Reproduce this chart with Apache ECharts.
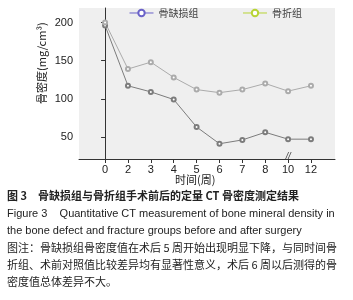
<!DOCTYPE html>
<html>
<head>
<meta charset="utf-8">
<script src="https://cdn.jsdelivr.net/npm/echarts@6/dist/echarts.min.js"></script>
<style>
  html, body { margin: 0; padding: 0; background: #fff; }
  #chart { width: 353px; height: 300px; }
</style>
</head>
<body>
<div id="chart"></div>
<script>
  // 时间(周)
  const weeks = ['0', '2', '3', '4', '5', '6', '7', '8', '10', '12']
  // 骨密度 mg/cm3
  const defectGroup = [196, 117, 109, 99, 63, 41, 46, 56, 47, 47]
  const fractureGroup = [200, 139, 148, 128, 112, 108, 112, 120, 110, 117]
  const yTicks = [50, 100, 150, 200]

  const cn = '"Noto Sans CJK SC", "Liberation Sans", sans-serif'
  const tickIdx = weeks.map((w, i) => i)

  let chart = echarts.init(document.getElementById('chart'))

  let options = {
    animation: false,
    textStyle: { fontFamily: cn },
    grid: {
      show: true,
      backgroundColor: '#efefef',
      borderWidth: 0,
      left: 79,
      right: 18,
      top: 8,
      bottom: 141
    },
    legend: {
      left: 124,
      top: 3,
      itemWidth: 24,
      itemHeight: 8,
      itemGap: 44,
      textStyle: { fontSize: 10, color: '#444', fontFamily: cn },
      data: [
        { name: '骨缺损组', itemStyle: { color: '#6a62c8' }, lineStyle: { color: '#6a62c8', width: 1 } },
        { name: '骨折组', itemStyle: { color: '#b8d436' }, lineStyle: { color: '#b8d436', width: 1 } }
      ]
    },
    xAxis: {
      type: 'value',
      min: -1.14,
      max: 10.05,
      splitLine: { show: false },
      axisLine: { lineStyle: { color: '#333' } },
      axisTick: { customValues: tickIdx, length: 4, lineStyle: { color: '#333' } },
      axisLabel: {
        customValues: tickIdx,
        formatter: v => weeks[Math.round(v)],
        color: '#222',
        fontSize: 11,
        margin: 5,
        fontFamily: '"Liberation Sans", sans-serif'
      }
    },
    yAxis: {
      type: 'value',
      min: 21,
      max: 219,
      splitLine: { show: false },
      axisLine: { show: true, lineStyle: { color: '#333' } },
      axisTick: { show: true, customValues: yTicks, length: 4, lineStyle: { color: '#333' } },
      axisLabel: {
        customValues: yTicks,
        color: '#222',
        fontSize: 11,
        margin: 6,
        fontFamily: '"Liberation Sans", sans-serif'
      }
    },
    series: [
      {
        name: '骨缺损组',
        type: 'line',
        data: defectGroup.map((v, i) => [i, v]),
        symbol: 'emptyCircle',
        symbolSize: 4,
        color: '#7c7c7c',
        lineStyle: { width: 1, color: '#7c7c7c' },
        itemStyle: { color: '#7c7c7c', borderWidth: 1 }
      },
      {
        name: '骨折组',
        type: 'line',
        data: fractureGroup.map((v, i) => [i, v]),
        symbol: 'emptyCircle',
        symbolSize: 4,
        color: '#ababab',
        lineStyle: { width: 1, color: '#ababab' },
        itemStyle: { color: '#ababab', borderWidth: 1 }
      }
    ]
  }

  chart.setOption(options, true)

  // axis names, break mark and figure caption
  const brk = chart.convertToPixel({ xAxisIndex: 0 }, 7.9)
  const x0 = chart.convertToPixel({ yAxisIndex: 0 }, 21)
  const capFont = '11px ' + cn
  const capLines = [
    { t: '图 3　骨缺损组与骨折组手术前后的定量 CT 骨密度测定结果', y: 190, font: 'bold 11px ' + cn },
    { t: 'Figure 3    Quantitative CT measurement of bone mineral density in', y: 208, font: '11px "Liberation Sans", sans-serif' },
    { t: 'the bone defect and fracture groups before and after surgery', y: 225, font: '11px "Liberation Sans", sans-serif' },
    { t: '图注：骨缺损组骨密度值在术后 5 周开始出现明显下降，与同时间骨', y: 242, font: capFont },
    { t: '折组、术前对照值比较差异均有显著性意义，术后 6 周以后测得的骨', y: 259, font: capFont },
    { t: '密度值总体差异不大。', y: 276, font: capFont }
  ]

  let graphics = [
    {
      type: 'text',
      x: 36, y: 104,
      rotation: Math.PI / 2,
      style: { text: '骨密度(mg/cm³)', font: '11px ' + cn, fill: '#222' }
    },
    {
      type: 'text',
      x: 175, y: 174,
      style: { text: '时间(周)', font: '11px ' + cn, fill: '#222' }
    },
    {
      type: 'text',
      x: brk + 0, y: x0 - 7,
      style: { text: '//', font: 'italic 9px "Liberation Sans", sans-serif', fill: '#333' }
    }
  ]
  capLines.forEach(l => {
    graphics.push({
      type: 'text',
      x: 7, y: l.y,
      style: { text: l.t, font: l.font, fill: '#222' }
    })
  })

  chart.setOption({ graphic: graphics })
</script>
</body>
</html>
